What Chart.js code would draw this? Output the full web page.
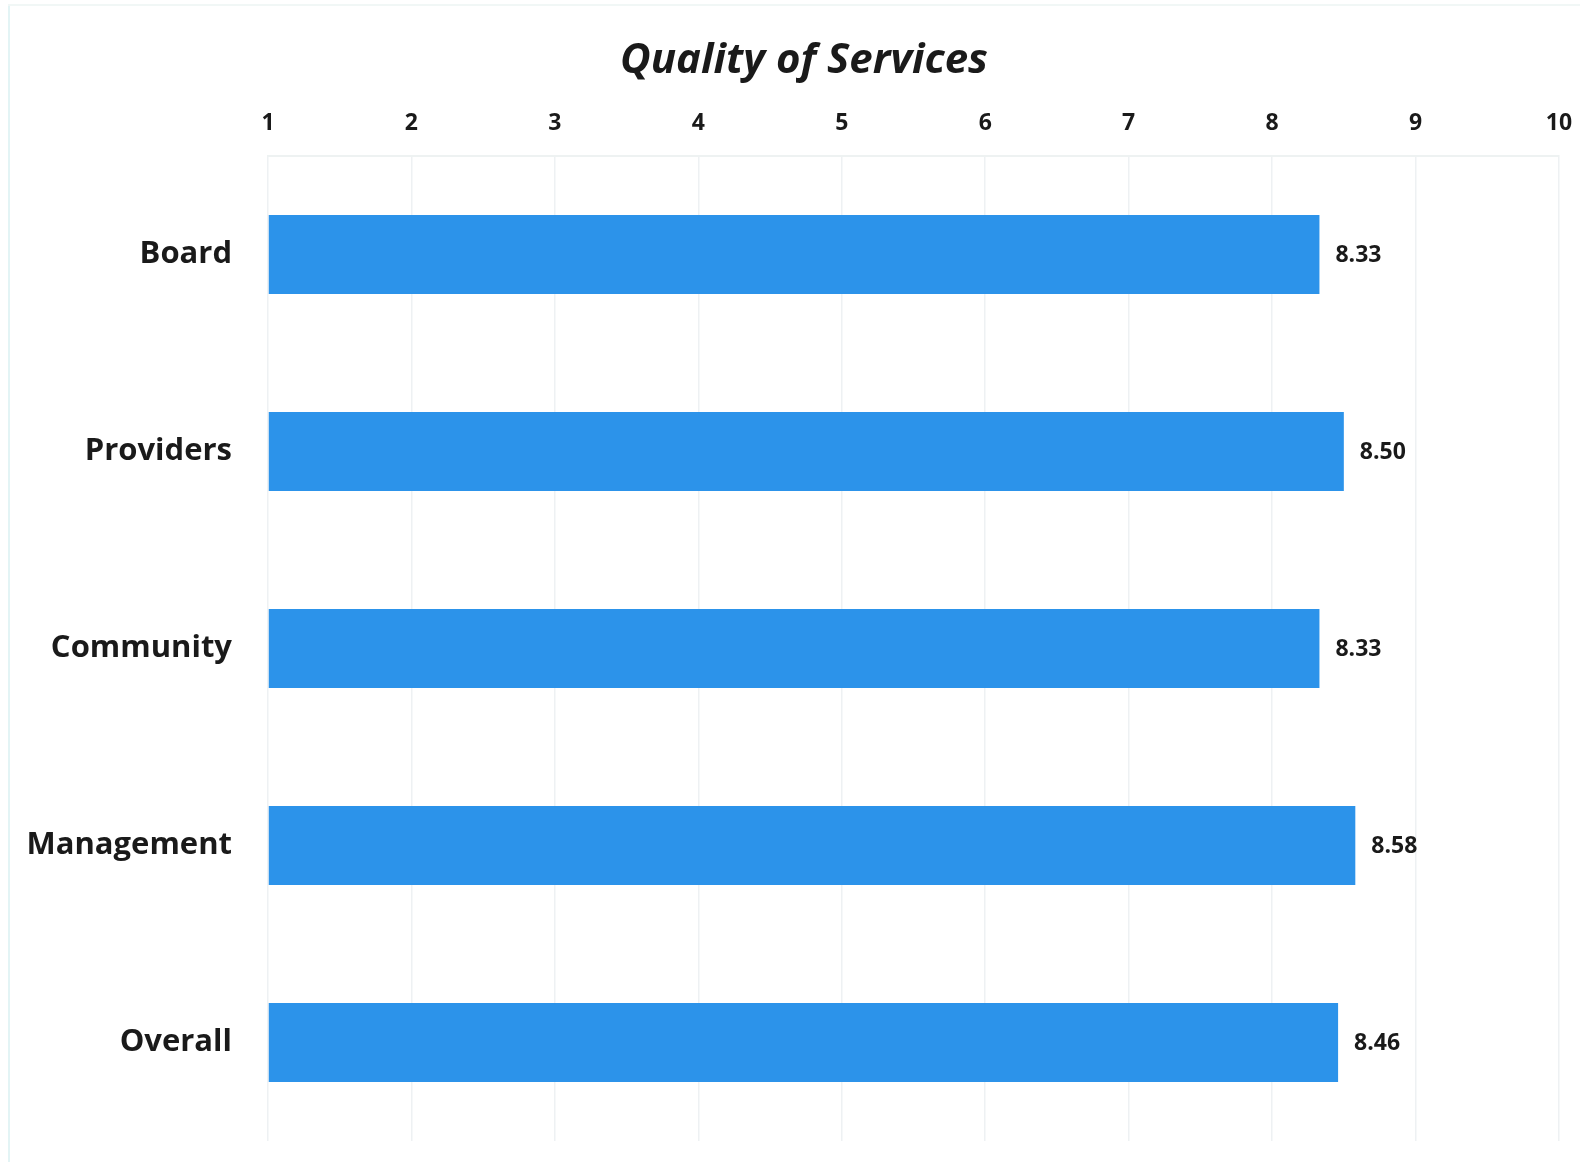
<!DOCTYPE html>
<html>
<head>
<meta charset="utf-8">
<script src="https://cdn.jsdelivr.net/npm/chart.js@4/dist/chart.umd.min.js"></script>
<style>
  html, body { margin: 0; padding: 0; background: #fff; }
  #wrap { position: relative; width: 1580px; height: 1162px; }
  #wrap::before { content: ""; position: absolute; left: 8px; top: 4px; bottom: 0; border-left: 2px solid #e3f4f5; }
  #wrap::after { content: ""; position: absolute; left: 8px; right: 0; top: 4px; border-top: 2px solid #f1f7f6; }
</style>
</head>
<body>
<div id="wrap"><canvas id="qualityChart" width="1580" height="1162"></canvas></div>
<script>
const chartTitle = "Quality of Services";
const categories = ["Board", "Providers", "Community", "Management", "Overall"];
const scores = [8.33, 8.50, 8.33, 8.58, 8.46];
const tickValues = [1, 2, 3, 4, 5, 6, 7, 8, 9, 10];

// title sits a little right of the canvas centre, like the original
const titleText = {
  id: "titleText",
  afterDraw(chart) {
    const ctx = chart.ctx;
    ctx.save();
    ctx.font = "italic bold 42px 'Open Sans'";
    ctx.fillStyle = "#1a1a1a";
    ctx.textAlign = "center";
    ctx.textBaseline = "middle";
    ctx.fillText(chartTitle, 804, 61);
    ctx.restore();
  }
};

const valueLabels = {
  id: "valueLabels",
  afterDatasetsDraw(chart) {
    const ctx = chart.ctx;
    const meta = chart.getDatasetMeta(0);
    ctx.save();
    ctx.font = "bold 23px 'Open Sans'";
    ctx.fillStyle = "#1a1a1a";
    ctx.textAlign = "left";
    ctx.textBaseline = "middle";
    meta.data.forEach((bar, i) => {
      ctx.fillText(scores[i].toFixed(2), bar.x + 16, bar.y + 1);
    });
    ctx.restore();
  }
};

new Chart(document.getElementById("qualityChart").getContext("2d"), {
  type: "bar",
  data: {
    labels: categories,
    datasets: [{
      data: scores,
      backgroundColor: "#2c93ea",
      borderWidth: 0,
      barPercentage: 0.4,
      categoryPercentage: 1,
      base: 1
    }]
  },
  options: {
    indexAxis: "y",
    responsive: false,
    animation: false,
    layout: { padding: { top: 91, right: 21, bottom: 21, left: 0 } },
    plugins: {
      legend: { display: false },
      tooltip: { enabled: false },
      title: { display: false }
    },
    scales: {
      x: {
        position: "top",
        min: 1,
        max: 10,
        afterBuildTicks(axis) {
          axis.ticks = tickValues.map(v => ({ value: v }));
        },
        afterFit(axis) {
          axis.height = 65;
          axis.paddingLeft = 0;
          axis.paddingRight = 0;
        },
        grid: { color: "#eef1f3", lineWidth: 1.5, drawTicks: false },
        border: { display: true, color: "#eef2f2", width: 2 },
        ticks: {
          color: "#1a1a1a",
          padding: 19,
          font: { family: "'Open Sans'", size: 23, weight: "bold" }
        }
      },
      y: {
        afterFit(axis) {
          axis.width = 268;
          axis.paddingTop = 0;
          axis.paddingBottom = 0;
        },
        grid: { display: false, drawTicks: false },
        border: { display: false },
        ticks: {
          color: "#1a1a1a",
          padding: 36,
          font: { family: "'Open Sans'", size: 31, weight: "bold" }
        }
      }
    }
  },
  plugins: [valueLabels, titleText]
});
</script>
</body>
</html>
